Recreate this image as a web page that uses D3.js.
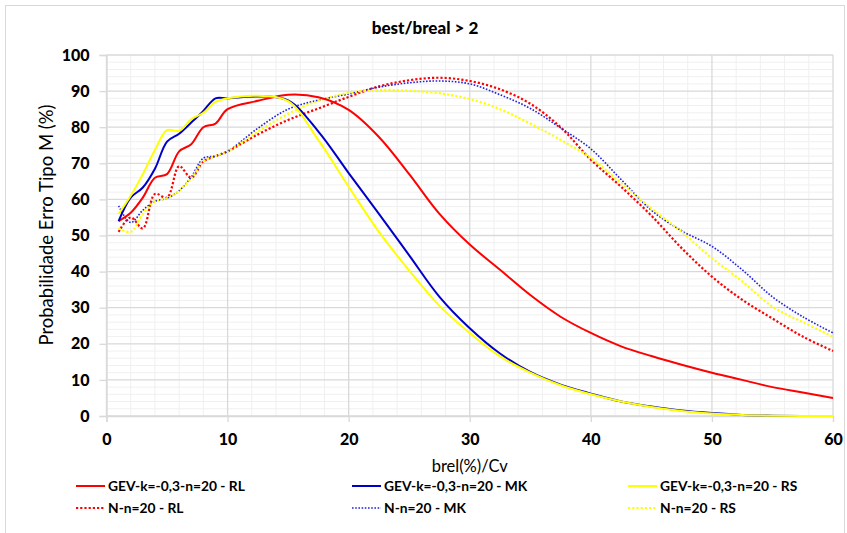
<!DOCTYPE html>
<html>
<head>
<meta charset="utf-8">
<script src="https://cdn.jsdelivr.net/npm/d3@7"></script>
<style>
  html, body { margin: 0; padding: 0; background: #fff; }
  svg { display: block; font-family: Lato, "Open Sans", sans-serif; }
</style>
</head>
<body>
<svg id="chart" width="847" height="533"></svg>
<script>
// ---- data ----
const xValues = [1,2,3,4,5,6,7,8,9,10,12.5,15,17.5,20,22.5,25,27.5,30,32.5,35,37.5,40,42.5,45,47.5,50,52.5,55,57.5,60];

const gevRL = [54,56.3,60.5,66,67,73.3,75.3,80,81,85,87.3,89,88.3,84.8,77.3,67,56,47.5,40.5,33.5,27.5,23,19.3,16.6,14.2,12,10,8,6.5,5];
const gevMK = [54,60.5,63.3,68.5,76,78.2,81.3,84.5,88,88,88.5,87.4,78.8,67.3,56,44.5,33,24.3,17.3,12.2,8.7,6.2,4,2.6,1.5,0.8,0.3,0.1,0,0];
const gevRS = [56,61,67,73.7,79.2,79,82.2,84,87,88,88.7,87.2,76.4,63.5,51,40.3,30.5,23,16.5,12,8.5,6,4,2.5,1.4,0.7,0.3,0.1,0,0];
const nRL   = [51,55,52,61.5,60.5,69.2,66,70.5,72,73.3,78,82,85.2,88.4,91.3,93,93.7,92.8,90.5,86.5,80,71,63.5,55.5,46.5,38.6,32.2,27,22,18];
const nMK   = [58.2,53.6,57,59.5,60.3,62.4,66.2,71.4,72,73.3,79.7,85,87.5,89.2,91.1,92.3,92.8,92,89,85.2,79.8,74,65.5,57,51.3,47,40.5,33,27.5,23];
const nRS   = [52,51,56,59.5,60.3,62.4,65.8,70.5,72,73.2,78.8,83.7,87.3,89.5,90.3,90.1,89.4,87.8,85,81,76.5,71.5,64.5,57.5,51,43.7,37.3,30.3,26,22];

const seriesNames = ["GEV-k=-0,3-n=20 - RL","GEV-k=-0,3-n=20 - MK","GEV-k=-0,3-n=20 - RS","N-n=20 - RL","N-n=20 - MK","N-n=20 - RS"];
const seriesValues = [gevRL, gevMK, gevRS, nRL, nMK, nRS];
const seriesColors = ["#ff0000","#0000c8","#ffff00","#ff0000","#2020e0","#ffff00"];
const seriesDotted = [false,false,false,true,true,true];

const xTicks = [0,10,20,30,40,50,60];
const yTicks = [0,10,20,30,40,50,60,70,80,90,100];

const titleText = "best/breal > 2";
const xTitle = "brel(%)/Cv";
const yTitle = "Probabilidade Erro Tipo M (%)";

// ---- layout ----
const svg = d3.select("#chart");
const plot = {left: 106.5, right: 833, top: 55, bottom: 416};

svg.append("rect").attr("x",5.5).attr("y",5.5).attr("width",839).attr("height",540)
  .attr("fill","#fff").attr("stroke","#d9d9d9").attr("stroke-width",1);

const x = d3.scaleLinear().domain([0,60]).range([plot.left, plot.right]);
const y = d3.scaleLinear().domain([0,100]).range([plot.bottom, plot.top]);

// minor grid
const g = svg.append("g");
d3.range(0,60.01,2).filter(v => v % 10 !== 0).forEach(v => {
  g.append("line").attr("x1",x(v)).attr("x2",x(v)).attr("y1",y(0)).attr("y2",y(100))
    .attr("stroke","#f0f0f0").attr("stroke-width",1);
});
d3.range(0,100.01,2).filter(v => v % 10 !== 0).forEach(v => {
  g.append("line").attr("x1",x(0)).attr("x2",x(60)).attr("y1",y(v)).attr("y2",y(v))
    .attr("stroke","#f0f0f0").attr("stroke-width",1);
});
// major grid
xTicks.forEach(v => {
  g.append("line").attr("x1",x(v)).attr("x2",x(v)).attr("y1",y(0)).attr("y2",y(100))
    .attr("stroke","#d9d9d9").attr("stroke-width",1.3);
});
yTicks.forEach(v => {
  g.append("line").attr("x1",x(0)).attr("x2",x(60)).attr("y1",y(v)).attr("y2",y(v))
    .attr("stroke","#d9d9d9").attr("stroke-width",1.3);
});

// axes
const xAxis = d3.axisBottom(x).tickValues(xTicks).tickSize(6).tickPadding(12).tickFormat(d3.format("d"));
const yAxis = d3.axisLeft(y).tickValues(yTicks).tickSize(7).tickPadding(10).tickFormat(d3.format("d"));
const gx = svg.append("g").attr("transform",`translate(0,${plot.bottom})`).call(xAxis);
const gy = svg.append("g").attr("transform",`translate(${plot.left},0)`).call(yAxis);
[gx, gy].forEach(a => {
  a.select(".domain").attr("stroke","#d9d9d9").attr("stroke-width",1.3);
  a.selectAll(".tick line").attr("stroke","#d9d9d9").attr("stroke-width",1.3);
  a.selectAll(".tick text").attr("fill","#000").attr("font-size","16px").attr("font-weight","900")
    .attr("font-family","Lato, sans-serif");
});

// series
const line = d3.line().x((d,i) => x(xValues[i])).y(d => y(d)).curve(d3.curveCatmullRom.alpha(0.5));
const order = [3,4,5,0,1,2];
order.forEach(i => {
  svg.append("path").datum(seriesValues[i])
    .attr("d", line)
    .attr("fill","none")
    .attr("stroke", seriesColors[i])
    .attr("stroke-width", seriesDotted[i] ? (i===4 ? 1.6 : 2.2) : 2)
    .attr("stroke-dasharray", seriesDotted[i] ? (i===4 ? "1.6,1.6" : "2.2,2") : null)
    .attr("stroke-linejoin","round");
});

// titles
svg.append("text").attr("x",425).attr("y",34).attr("text-anchor","middle")
  .attr("font-size","17px").attr("font-weight","900").text(titleText);
svg.append("text").attr("x",(plot.left+plot.right)/2).attr("y",472).attr("text-anchor","middle")
  .attr("font-size","16.5px").text(xTitle);
svg.append("text").attr("transform","translate(53,225) rotate(-90)").attr("text-anchor","middle")
  .attr("font-size","18.5px").text(yTitle);

// legend
const legX = [76, 352, 628];
const legY = [486, 508];
seriesNames.forEach((name, i) => {
  const col = i % 3, row = Math.floor(i / 3);
  const lx = legX[col], ly = legY[row];
  svg.append("line").attr("x1",lx).attr("x2",lx+29).attr("y1",ly).attr("y2",ly)
    .attr("stroke",seriesColors[i])
    .attr("stroke-width", seriesDotted[i] ? (i===4 ? 1.6 : 2.2) : 2)
    .attr("stroke-dasharray", seriesDotted[i] ? (i===4 ? "1.6,1.6" : "2.2,2") : null);
  svg.append("text").attr("x",lx+32).attr("y",ly+5).attr("font-size","13.8px")
    .attr("font-weight","bold").attr("fill","#000").text(name);
});
</script>
</body>
</html>
